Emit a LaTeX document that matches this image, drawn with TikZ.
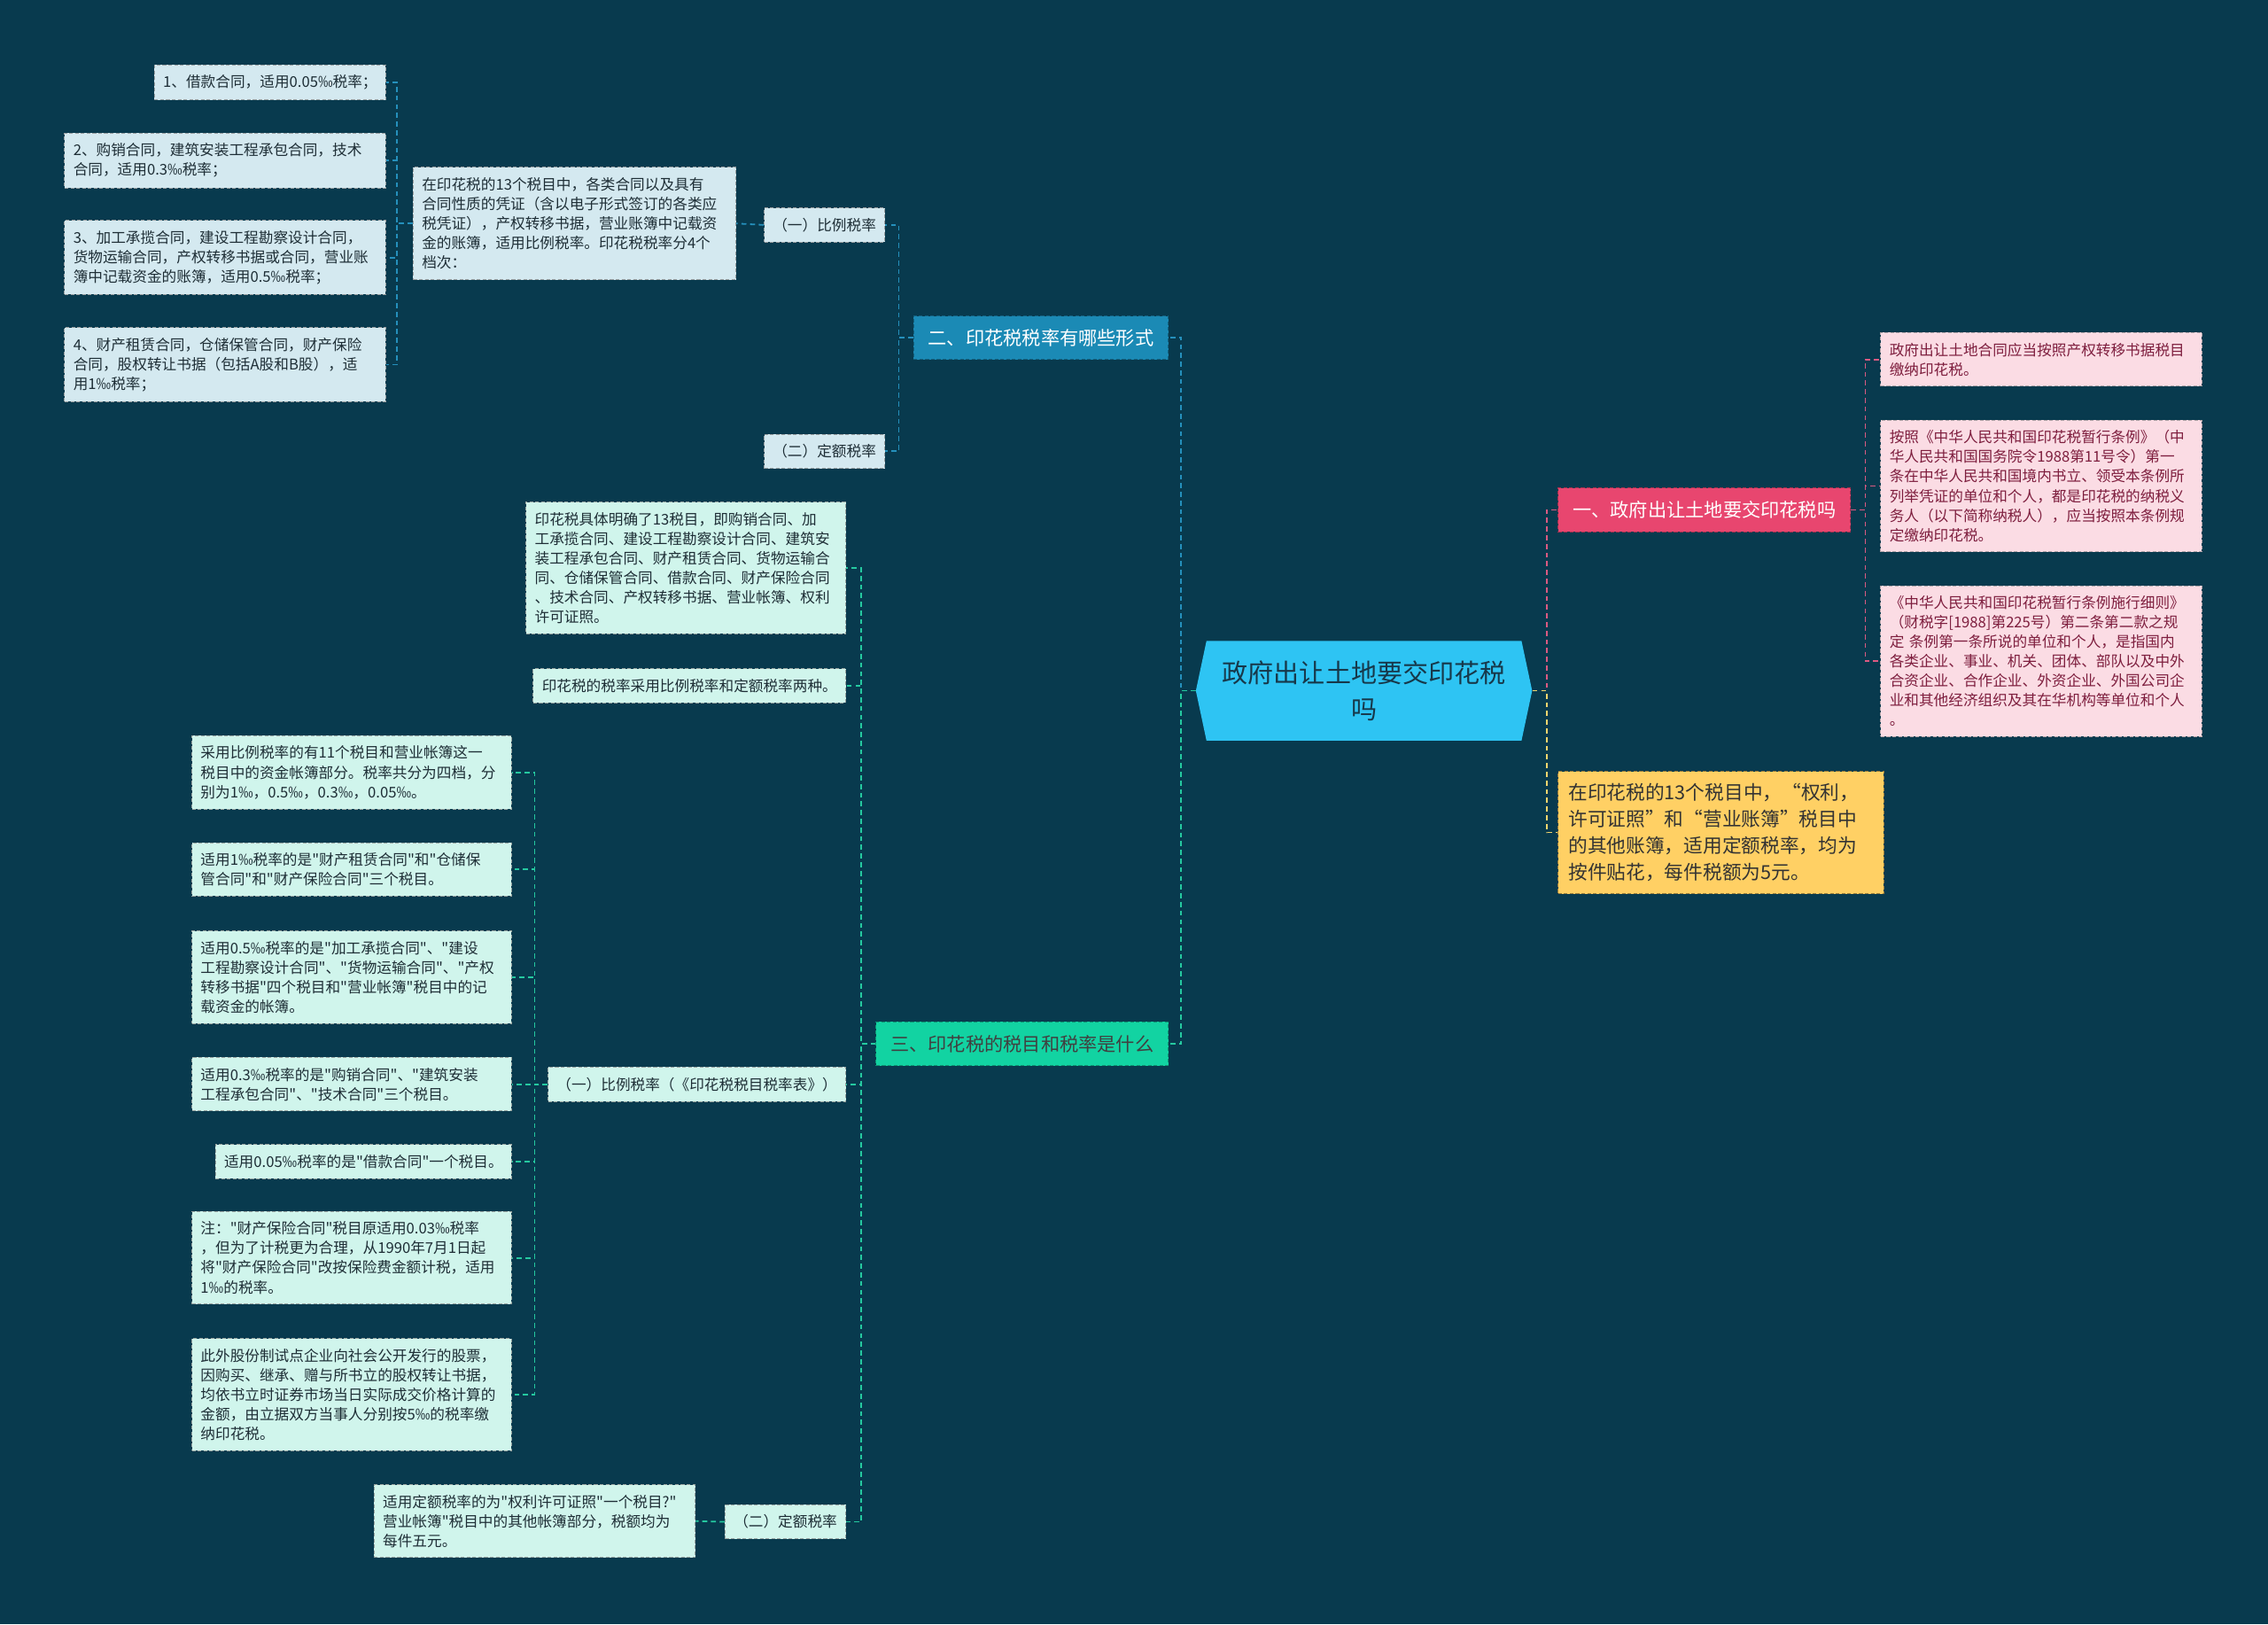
\documentclass[tikz,border=0pt]{standalone}
\usepackage{fontspec}
\setmainfont{Noto Sans CJK SC}[Ligatures=TeXOff]
\usepackage{xcolor}
\usepackage{tikz}
\usetikzlibrary{shapes.symbols, positioning, backgrounds}

\definecolor{mapbg}{HTML}{083A4E}
\definecolor{rootfill}{HTML}{2EC4F3}
\definecolor{roottext}{HTML}{17384A}
\definecolor{bluetopic}{HTML}{1B8AB5}
\definecolor{bluefill}{HTML}{D4E9F0}
\definecolor{bluelink}{HTML}{2590BC}
\definecolor{greentopic}{HTML}{12D3A2}
\definecolor{greenfill}{HTML}{D0F5EC}
\definecolor{greenlink}{HTML}{25C9A0}
\definecolor{pinktopic}{HTML}{E8466F}
\definecolor{pinkfill}{HTML}{FBDCE4}
\definecolor{pinklink}{HTML}{DB5A82}
\definecolor{pinktext}{HTML}{7E1E3E}
\definecolor{yellowfill}{HTML}{FFD064}
\definecolor{yellowlink}{HTML}{F3D66E}
\definecolor{leaftext}{HTML}{1E2E36}

\tikzset{
  rootnode/.style={
    signal, signal to=west and east, signal pointer angle=156,
    fill=rootfill, text=roottext, align=center,
    font=\fontsize{17.8}{25}\selectfont,
    minimum height=69pt, inner xsep=11pt
  },
  topicbox/.style={
    draw=#1!70!black, fill=#1, dash pattern=on 2.5pt off 1.5pt,
    line width=0.6pt, font=\fontsize{13}{16}\selectfont,
    inner xsep=10pt, inner ysep=9pt
  },
  leafbox/.style={
    dash pattern=on 2.5pt off 1.5pt, line width=0.6pt, align=left,
    font=\fontsize{10.2}{13.5}\selectfont,
    inner xsep=6pt, inner ysep=7pt
  },
  wideleaf/.style={leafbox, text width=209pt},
  blueleaf/.style={fill=bluefill, draw=gray!70!bluefill, text=leaftext},
  greenleaf/.style={fill=greenfill, draw=gray!70!greenfill, text=leaftext},
  pinkleaf/.style={fill=pinkfill, draw=gray!60!pinkfill, text=pinktext},
  notebox/.style={
    fill=yellowfill, draw=yellowfill!60!black,
    dash pattern=on 2.5pt off 1.5pt, line width=0.6pt, align=left,
    text=black!80, font=\fontsize{13.3}{18.3}\selectfont,
    text width=211pt, inner xsep=7pt, inner ysep=8.5pt
  },
  maplink/.style={draw=#1, line width=1.1pt, dash pattern=on 3.5pt off 2.5pt},
}

\begin{document}
\begin{tikzpicture}[x=1pt, y=-1pt]
  \useasboundingbox (0,0) rectangle (1568,1123);
  \fill[mapbg] (0,0) rectangle (1568,1123);

  % ── centre ──
  \node[rootnode] (root) at (943,477.5) {政府出让土地要交印花税\\吗};

  % ── 一 (right, pink) ──
  \node[topicbox=pinktopic, text=white, anchor=west] (h1)
    at (1077,352.5) {一、政府出让土地要交印花税吗};
  \node[leafbox, pinkleaf, text width=210pt, anchor=west] (p1) at (1300,248.5)
    {政府出让土地合同应当按照产权转移书据税目\\缴纳印花税。};
  \node[leafbox, pinkleaf, text width=210pt, anchor=west] (p2) at (1300,336)
    {按照《中华人民共和国印花税暂行条例》（中\\华人民共和国国务院令1988第11号令）第一\\条在中华人民共和国境内书立、领受本条例所\\列举凭证的单位和个人，都是印花税的纳税义\\务人（以下简称纳税人），应当按照本条例规\\定缴纳印花税。};
  \node[leafbox, pinkleaf, text width=210pt, anchor=west] (p3) at (1300,457)
    {《中华人民共和国印花税暂行条例施行细则》\\（财税字[1988]第225号）第二条第二款之规\\定 条例第一条所说的单位和个人，是指国内\\各类企业、事业、机关、团体、部队以及中外\\合资企业、合作企业、外资企业、外国公司企\\业和其他经济组织及其在华机构等单位和个人\\。};
  \node[notebox, anchor=west] (note) at (1077,575.5)
    {在印花税的13个税目中，“权利，\\许可证照”和“营业账簿”税目中\\的其他账簿，适用定额税率，均为\\按件贴花，每件税额为5元。};

  % ── 二 (upper left, blue) ──
  \node[topicbox=bluetopic, text=white, anchor=east] (h2)
    at (808,233.5) {二、印花税税率有哪些形式};
  \node[leafbox, blueleaf, anchor=east] (ratio1) at (612,155.5) {（一）比例税率};
  \node[leafbox, blueleaf, anchor=east] (fixed1) at (612,312) {（二）定额税率};
  \node[wideleaf, blueleaf, text width=211pt, anchor=east] (grades) at (509,154.5)
    {在印花税的13个税目中，各类合同以及具有\\合同性质的凭证（含以电子形式签订的各类应\\税凭证），产权转移书据，营业账簿中记载资\\金的账簿，适用比例税率。印花税税率分4个\\档次：};
  \node[leafbox, blueleaf, anchor=east] (g1) at (267,57)
    {1、借款合同，适用0.05‰税率；};
  \node[wideleaf, blueleaf, text width=210pt, anchor=east] (g2) at (267,111)
    {2、购销合同，建筑安装工程承包合同，技术\\合同，适用0.3‰税率；};
  \node[wideleaf, blueleaf, text width=210pt, anchor=east] (g3) at (267,178)
    {3、加工承揽合同，建设工程勘察设计合同，\\货物运输合同，产权转移书据或合同，营业账\\簿中记载资金的账簿，适用0.5‰税率；};
  \node[wideleaf, blueleaf, text width=210pt, anchor=east] (g4) at (267,252)
    {4、财产租赁合同，仓储保管合同，财产保险\\合同，股权转让书据（包括A股和B股），适\\用1‰税率；};

  % ── 三 (lower left, green) ──
  \node[topicbox=greentopic, text=black!75, anchor=east] (h3)
    at (808,721.5) {三、印花税的税目和税率是什么};
  \node[wideleaf, greenleaf, anchor=east] (items) at (585,392.5)
    {印花税具体明确了13税目，即购销合同、加\\工承揽合同、建设工程勘察设计合同、建筑安\\装工程承包合同、财产租赁合同、货物运输合\\同、仓储保管合同、借款合同、财产保险合同\\、技术合同、产权转移书据、营业帐簿、权利\\许可证照。};
  \node[leafbox, greenleaf, anchor=east] (kinds) at (585,474)
    {印花税的税率采用比例税率和定额税率两种。};
  \node[leafbox, greenleaf, anchor=east] (ratio2) at (585,749.5)
    {（一）比例税率（《印花税税目税率表》）};
  \node[leafbox, greenleaf, anchor=east] (fixed2) at (585,1052)
    {（二）定额税率};

  \node[wideleaf, greenleaf, anchor=east] (rA) at (354,534)
    {采用比例税率的有11个税目和营业帐簿这一\\税目中的资金帐簿部分。税率共分为四档，分\\别为1‰，0.5‰，0.3‰，0.05‰。};
  \node[wideleaf, greenleaf, anchor=east] (rB) at (354,601)
    {适用1‰税率的是"财产租赁合同"和"仓储保\\管合同"和"财产保险合同"三个税目。};
  \node[wideleaf, greenleaf, anchor=east] (rC) at (354,675.5)
    {适用0.5‰税率的是"加工承揽合同"、"建设\\工程勘察设计合同"、"货物运输合同"、"产权\\转移书据"四个税目和"营业帐簿"税目中的记\\载资金的帐簿。};
  \node[wideleaf, greenleaf, anchor=east] (rD) at (354,749.5)
    {适用0.3‰税率的是"购销合同"、"建筑安装\\工程承包合同"、"技术合同"三个税目。};
  \node[leafbox, greenleaf, anchor=east] (rE) at (354,803)
    {适用0.05‰税率的是"借款合同"一个税目。};
  \node[wideleaf, greenleaf, anchor=east] (rF) at (354,869.5)
    {注："财产保险合同"税目原适用0.03‰税率\\，但为了计税更为合理，从1990年7月1日起\\将"财产保险合同"改按保险费金额计税，适用\\1‰的税率。};
  \node[wideleaf, greenleaf, anchor=east] (rG) at (354,964)
    {此外股份制试点企业向社会公开发行的股票，\\因购买、继承、赠与所书立的股权转让书据，\\均依书立时证券市场当日实际成交价格计算的\\金额，由立据双方当事人分别按5‰的税率缴\\纳印花税。};
  \node[wideleaf, greenleaf, text width=210pt, anchor=east] (rH) at (481,1051.5)
    {适用定额税率的为"权利许可证照"一个税目?"\\营业帐簿"税目中的其他帐簿部分，税额均为\\每件五元。};

  % ── connectors ──
  \draw[maplink=bluelink] (root.west) -- ++(-10,0) |- (h2.east);
  \draw[maplink=greenlink] (root.west) -- ++(-10,0) |- (h3.east);
  \draw[maplink=pinklink] (root.east) -- ++(10,0) |- (h1.west);
  \draw[maplink=yellowlink] (root.east) -- ++(10,0) |- (note.west);

  \foreach \leaf in {p1,p2,p3}
    \draw[maplink=pinklink] (h1.east) -- ++(10,0) |- (\leaf.west);

  \foreach \leaf in {ratio1,fixed1}
    \draw[maplink=bluelink] (h2.west) -- ++(-10,0) |- (\leaf.east);
  \draw[maplink=bluelink] (ratio1.west) -- (grades.east);
  \foreach \leaf in {g1,g2,g3,g4}
    \draw[maplink=bluelink] (grades.west) -- ++(-11,0) |- (\leaf.east);

  \foreach \leaf in {items,kinds,ratio2,fixed2}
    \draw[maplink=greenlink] (h3.west) -- ++(-10,0) |- (\leaf.east);
  \foreach \leaf in {rA,rB,rC,rD,rE,rF,rG}
    \draw[maplink=greenlink] (ratio2.west) -- ++(-9,0) |- (\leaf.east);
  \draw[maplink=greenlink] (fixed2.west) -- (rH.east);
\end{tikzpicture}
\end{document}
